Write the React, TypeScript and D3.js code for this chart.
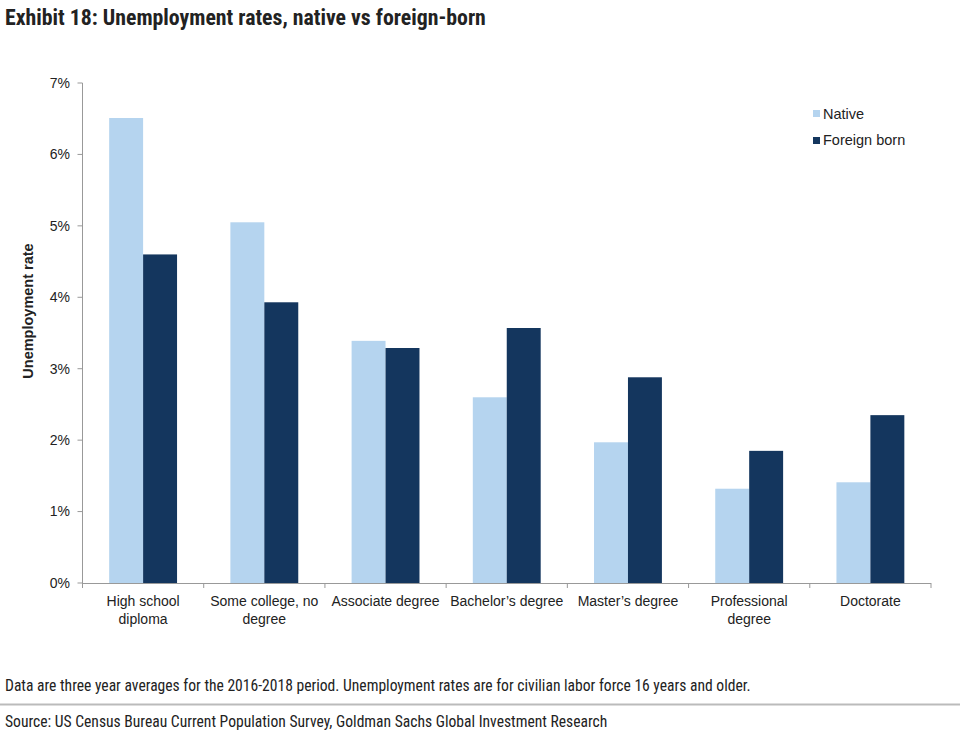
import React from "react";
import * as d3 from "d3";

const categories = [
  "High school diploma",
  "Some college, no degree",
  "Associate degree",
  "Bachelor's degree",
  "Master's degree",
  "Professional degree",
  "Doctorate",
];
const categoryLines = [
  ["High school", "diploma"],
  ["Some college, no", "degree"],
  ["Associate degree"],
  ["Bachelor\u2019s degree"],
  ["Master\u2019s degree"],
  ["Professional", "degree"],
  ["Doctorate"],
];
const seriesNames = ["Native", "Foreign born"];
const nativeValues = [6.51, 5.05, 3.39, 2.6, 1.97, 1.32, 1.41];
const foreignValues = [4.6, 3.93, 3.29, 3.57, 2.88, 1.85, 2.35];
const yTicks = [0, 1, 2, 3, 4, 5, 6, 7];
const colors = ["#b5d4ef", "#14365e"];

const W = 960;
const H = 740;
const left = 82.5;
const right = 931;
const top = 83;
const bottom = 583;
const font = "Liberation Sans, Arial, sans-serif";
const narrow = "'Liberation Sans Narrow', 'Arial Narrow', 'Roboto Condensed', sans-serif";

export default function App() {
  const x = d3
    .scaleBand<string>()
    .domain(categories)
    .range([left, right])
    .paddingInner(0.44)
    .paddingOuter(0.22);
  const step = x.step();
  const xs = d3.scaleBand<string>().domain(seriesNames).range([0, x.bandwidth()]);
  const y = d3.scaleLinear().domain([0, 7]).range([bottom, top]);
  const series = [nativeValues, foreignValues];

  const boundaries = d3.range(categories.length + 1).map((i) => left + i * step);

  return (
    <svg
      width={W}
      height={H}
      style={{ position: "absolute", left: 0, top: 0, background: "#fff" }}
    >
      <text
        x={5}
        y={25}
        fontFamily={narrow}
        fontWeight="bold"
        fontSize={21.8}
        fill="#222"
      >
        Exhibit 18: Unemployment rates, native vs foreign-born
      </text>

      {/* bars */}
      {series.map((vals, si) =>
        vals.map((v, i) => (
          <rect
            key={`${si}-${i}`}
            x={(x(categories[i]) as number) + (xs(seriesNames[si]) as number)}
            y={y(v)}
            width={xs.bandwidth()}
            height={y(0) - y(v)}
            fill={colors[si]}
          />
        ))
      )}

      {/* y axis */}
      <line x1={left} x2={left} y1={top} y2={bottom} stroke="#999" strokeWidth={1} />
      {yTicks.map((t) => (
        <g key={t}>
          <line x1={left - 5} x2={left} y1={y(t)} y2={y(t)} stroke="#999" />
          <text
            x={70}
            y={y(t)}
            dy="0.35em"
            textAnchor="end"
            fontFamily={font}
            fontSize={14}
            fill="#222"
          >
            {t}%
          </text>
        </g>
      ))}
      <text
        transform={`translate(33, 311) rotate(-90)`}
        textAnchor="middle"
        fontFamily={font}
        fontWeight="bold"
        fontSize={14.5}
        fill="#222"
      >
        Unemployment rate
      </text>

      {/* x axis */}
      <line x1={left} x2={right} y1={bottom + 0.5} y2={bottom + 0.5} stroke="#999" />
      {boundaries.map((bx, i) => (
        <line key={i} x1={bx} x2={bx} y1={bottom} y2={bottom + 5} stroke="#999" />
      ))}
      {categories.map((c, i) => (
        <text
          key={c}
          x={(x(c) as number) + x.bandwidth() / 2}
          y={606}
          textAnchor="middle"
          fontFamily={font}
          fontSize={14}
          fill="#222"
        >
          {categoryLines[i].map((ln, li) => (
            <tspan key={li} x={(x(c) as number) + x.bandwidth() / 2} dy={li === 0 ? 0 : 18}>
              {ln}
            </tspan>
          ))}
        </text>
      ))}

      {/* legend */}
      {seriesNames.map((s, i) => (
        <g key={s}>
          <rect x={813} y={110 + i * 27} width={7} height={7} fill={colors[i]} />
          <text x={823} y={118.5 + i * 26.5} fontFamily={font} fontSize={14.5} fill="#222">
            {s}
          </text>
        </g>
      ))}

      {/* footer */}
      <text x={5} y={691} fontFamily={narrow} fontSize={15.6} fill="#222">
        Data are three year averages for the 2016-2018 period. Unemployment rates are for civilian labor force 16 years and older.
      </text>
      <line x1={0} x2={W} y1={704.5} y2={704.5} stroke="#bbb" strokeWidth={2} />
      <text x={5} y={727} fontFamily={narrow} fontSize={15.6} fill="#222">
        Source: US Census Bureau Current Population Survey, Goldman Sachs Global Investment Research
      </text>
    </svg>
  );
}
